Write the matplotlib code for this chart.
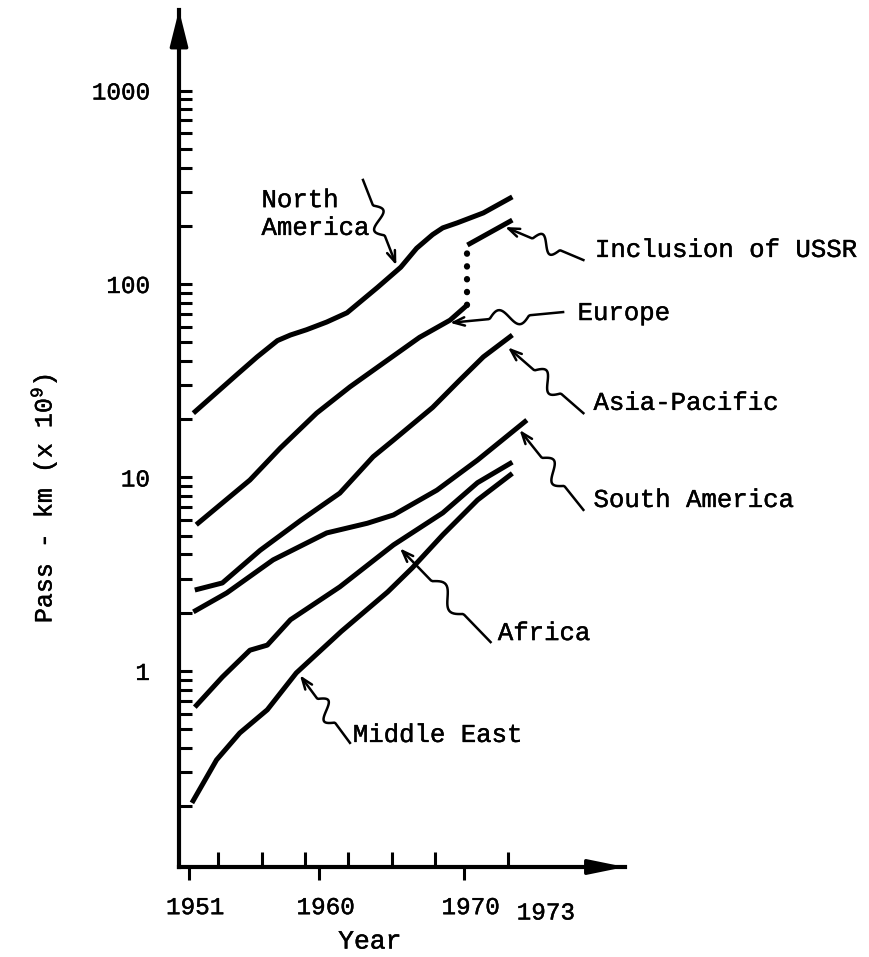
import numpy as np
import matplotlib
matplotlib.use("Agg")
import matplotlib.pyplot as plt
import matplotlib.patheffects as pe
import matplotlib.transforms as mtrans
from matplotlib.ticker import FixedLocator, NullFormatter

plt.rcParams['font.family'] = ['Liberation Mono', 'DejaVu Sans Mono']
plt.rcParams['mathtext.fontset'] = 'custom'
plt.rcParams['mathtext.rm'] = 'Liberation Mono'
plt.rcParams['mathtext.it'] = 'Liberation Mono'

# values (passenger-km, x 10^9)
na_years = [1951.3, 1954.3, 1955.7, 1957.1, 1958.0, 1959.1, 1960.5, 1961.9, 1964.0, 1965.6,
            1966.7, 1967.8, 1968.5, 1969.5, 1971.3, 1973.3]
na_vals = [21.5, 34, 42, 51, 54.5, 58, 63.6, 71, 96, 122, 153, 180, 195, 207, 233, 282]

ussr_years = [1970.2, 1973.3]
ussr_vals = [159, 214]

eu_years = [1951.5, 1955.2, 1957.3, 1959.8, 1962.1, 1964.4, 1966.9, 1969.0, 1970.2]
eu_vals = [5.7, 9.7, 14.2, 21.5, 29.4, 39, 53, 65, 78]

ap_years = [1951.4, 1953.3, 1955.9, 1958.7, 1961.4, 1963.7, 1965.1, 1967.8, 1969.7, 1971.3, 1973.3]
ap_vals = [2.62, 2.85, 4.2, 6.0, 8.3, 12.8, 15.6, 23, 32, 42, 54.5]

sa_years = [1951.3, 1953.6, 1956.8, 1960.5, 1963.3, 1965.1, 1968.1, 1970.9, 1974.3]
sa_vals = [2.02, 2.53, 3.75, 5.17, 5.8, 6.4, 8.6, 12.3, 19.8]

af_years = [1951.4, 1953.3, 1955.2, 1956.4, 1958.0, 1961.4, 1965.1, 1968.5, 1970.9, 1973.3]
af_vals = [0.65, 0.93, 1.28, 1.36, 1.84, 2.72, 4.48, 6.56, 9.4, 12.0]

me_years = [1951.2, 1952.9, 1954.5, 1956.4, 1958.4, 1961.5, 1964.7, 1966.4, 1968.5, 1970.9, 1973.3]
me_vals = [0.208, 0.347, 0.478, 0.63, 0.977, 1.6, 2.56, 3.41, 5.05, 7.65, 10.5]

y_ticks = [1, 10, 100, 1000]
y_labels = ['1', '10', '100', '1000']
y_minor = [m * 10.0 ** e for e in range(-1, 3) for m in range(2, 10)]
x_ticks = [1951, 1960, 1970]
x_minor = [1953, 1956, 1959, 1962, 1965, 1968, 1973]

# annotations: label, arrow tip (year, value), arrow tail, text anchor
notes = [
    ('North\nAmerica', (1965.3, 125), (1963.0, 345), (1956.0, 230)),
    ('Inclusion of USSR', (1972.8, 197), (1978.2, 133), (1979.0, 150)),
    ('Europe', (1969.0, 63), (1976.8, 71.6), (1977.8, 70.8)),
    ('Asia-Pacific', (1973.0, 47), (1978.2, 21.5), (1978.9, 24.3)),
    ('South America', (1973.8, 17.6), (1978.2, 6.8), (1978.9, 7.65)),
    ('Africa', (1965.55, 4.3), (1971.8, 1.41), (1972.3, 1.57)),
    ('Middle East', (1958.65, 0.95), (1962.1, 0.425), (1962.3, 0.467)),
]

ink = [pe.withStroke(linewidth=0.3, foreground='black')]

fig = plt.figure(figsize=(8.69, 9.57), dpi=100)
ax = fig.add_axes([179 / 869, 90 / 957, 446 / 869, 857 / 957])
ax.set_yscale('log')
ax.set_xlim(1950.31, 1981.07)
ax.set_ylim(0.097, 2607)

lw = 3.6
for yrs, vals in [(na_years, na_vals), (ussr_years, ussr_vals), (eu_years, eu_vals),
                  (ap_years, ap_vals), (sa_years, sa_vals), (af_years, af_vals),
                  (me_years, me_vals)]:
    ax.plot(yrs, vals, color='black', lw=lw, solid_capstyle='butt', solid_joinstyle='round')

# dotted jump where the USSR is added to Europe
ax.plot([eu_years[-1], ussr_years[0]], [eu_vals[-1], ussr_vals[0]], color='black',
        lw=4.5, linestyle=(0, (0.05, 2.0)), dash_capstyle='round')

# axes with arrowheads
for s in ['top', 'right']:
    ax.spines[s].set_visible(False)
for s in ['left', 'bottom']:
    ax.spines[s].set_linewidth(3)
ax.annotate('', xy=(1, 0), xycoords='axes fraction', xytext=(0.9, 0),
            arrowprops=dict(arrowstyle='-|>,head_length=2.2,head_width=0.45', lw=2.5,
                            color='black', shrinkA=0, shrinkB=0))
ax.annotate('', xy=(0, 1), xycoords='axes fraction', xytext=(0, 0.95),
            arrowprops=dict(arrowstyle='-|>,head_length=2.2,head_width=0.55', lw=2.5,
                            color='black', shrinkA=0, shrinkB=0))

ax.set_yticks(y_ticks, labels=y_labels)
ax.yaxis.set_minor_locator(FixedLocator(y_minor))
ax.yaxis.set_minor_formatter(NullFormatter())
ax.tick_params(axis='y', which='both', direction='in', length=9, width=2.2, pad=21,
               labelsize=17.5)

ax.set_xticks(x_ticks, labels=[str(x) for x in x_ticks])
ax.set_xticks(x_minor, minor=True)
ax.tick_params(axis='x', which='major', direction='out', length=9, width=2.2, pad=12,
               labelsize=17.5)
ax.tick_params(axis='x', which='minor', direction='in', length=11, width=2.2)
shift = mtrans.ScaledTranslation(0.06, 0, fig.dpi_scale_trans)
for lab in ax.get_xticklabels():
    lab.set_transform(lab.get_transform() + shift)
for lab in ax.get_xticklabels() + ax.get_yticklabels():
    lab.set_path_effects(ink)
ax.text(1975.6, -0.0537, '1973', transform=ax.get_xaxis_transform(), ha='center',
        va='center', fontsize=17.5, path_effects=ink)

ax.set_xlabel('Year', fontsize=19, path_effects=ink)
ax.xaxis.set_label_coords(0.428, -0.073)
ax.set_ylabel('Pass - km (x 10$^{9}$)', fontsize=18, path_effects=ink)
ax.yaxis.set_label_coords(-0.27, 0.43)


def squiggle(tip, tail, amp=8):
    p0 = ax.transData.transform(tail)
    p1 = ax.transData.transform(tip)
    d = p1 - p0
    n = np.array([-d[1], d[0]]) / np.hypot(*d)
    t = np.linspace(0, 1, 80)
    s = np.clip((t - 0.3) / 0.35, 0, 1)
    off = amp * np.sin(2 * np.pi * s)
    pts = p0 + np.outer(t, d) + np.outer(off, n)
    data = ax.transData.inverted().transform(pts)
    ax.plot(data[:-6, 0], data[:-6, 1], color='black', lw=1.8, clip_on=False)
    ax.annotate('', xy=tip, xytext=tuple(data[-7]),
                arrowprops=dict(arrowstyle='->,head_length=0.8,head_width=0.3', lw=1.8,
                                color='black', shrinkA=0, shrinkB=0))


for label, tip, tail, pos in notes:
    squiggle(tip, tail)
    ax.text(pos[0], pos[1], label, ha='left', va='center', fontsize=18.5, linespacing=1.2,
            path_effects=ink)

fig.savefig('out.png', dpi=100)
